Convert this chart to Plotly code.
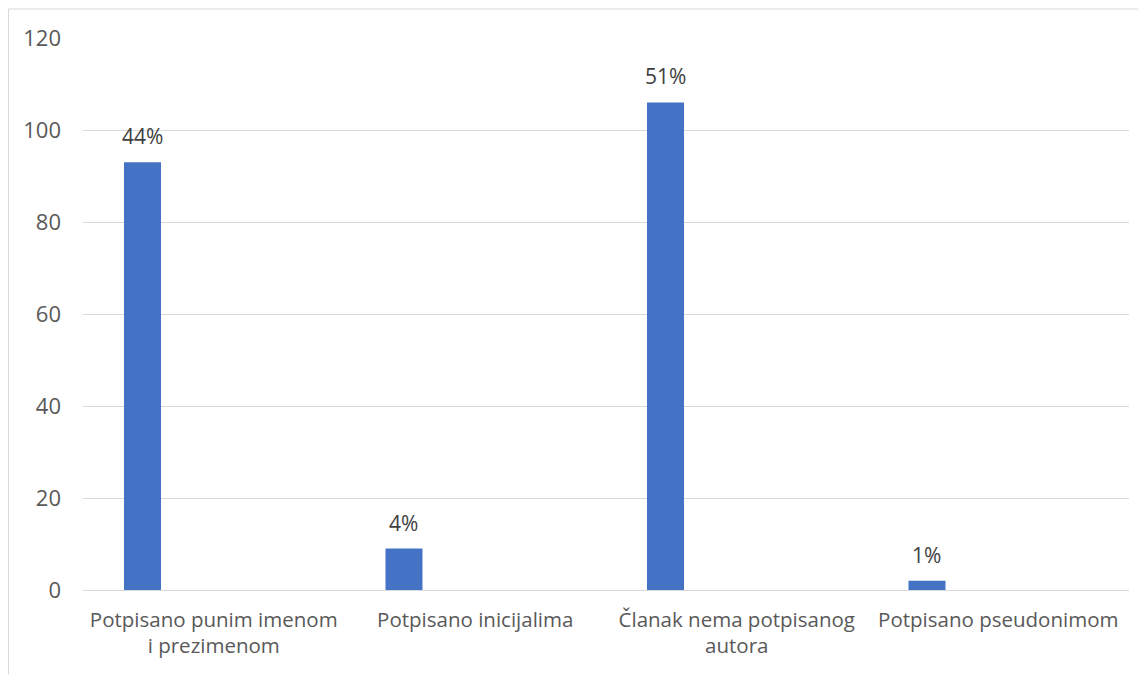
import plotly.graph_objects as go

categories = ["Potpisano punim imenom<br>i prezimenom", "Potpisano inicijalima",
              "Članak nema potpisanog<br>autora", "Potpisano pseudonimom"]
values = [93, 9, 106, 2]
labels = ["44%", "4%", "51%", "1%"]
y_ticks = [0, 20, 40, 60, 80, 100, 120]

FONT = "Open Sans"
GREY = "#595959"
BAR_W = 0.1415
BAR_OFF = -0.2725

fig = go.Figure()
fig.add_trace(go.Bar(
    x=categories, y=values,
    width=BAR_W, offset=BAR_OFF - BAR_W / 2,
    marker=dict(color="#4472C4", line=dict(width=0)),
    hoverinfo="skip",
))

for c, v, t in zip(categories, values, labels):
    fig.add_annotation(x=c, y=v, text=t, showarrow=False,
                       xshift=BAR_OFF * 261.5, yshift=10, yanchor="bottom",
                       font=dict(family=FONT, size=21, color="#404040"))

W, H = 1138, 666
L, R, T, B = 75, 17, 30, 84
pw, ph = W - L - R, H - T - B
fig.add_shape(type="rect", xref="paper", yref="paper",
              x0=(0.5 - L) / pw, x1=(W + 5 - L) / pw,
              y0=(H - B - (H + 5)) / ph, y1=(H - B - 1) / ph,
              line=dict(color="#d9d9d9", width=1), fillcolor="rgba(0,0,0,0)", layer="below")

fig.update_layout(
    width=W, height=H,
    margin=dict(l=L, r=R, t=T, b=B, pad=0),
    paper_bgcolor="white", plot_bgcolor="white",
    showlegend=False,
    font=dict(family=FONT, size=20.5, color=GREY),
    xaxis=dict(type="category", showgrid=False, ticks="", showline=True,
               linecolor="#d9d9d9", linewidth=1,
               tickfont=dict(family=FONT, size=20.5, color=GREY),
               ticklabelstandoff=11),
    yaxis=dict(range=[0, 120], tickvals=y_ticks, showgrid=True,
               gridcolor="#d9d9d9", gridwidth=1, zeroline=False,
               showline=False, ticks="",
               tickfont=dict(family=FONT, size=22, color=GREY),
               ticklabelstandoff=21),
)

fig.write_html("out.html")
